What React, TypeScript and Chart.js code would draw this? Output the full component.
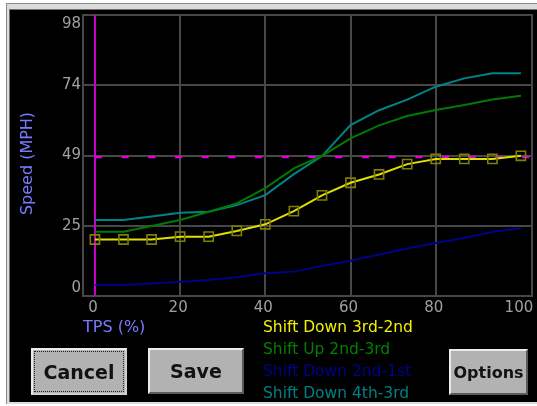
import { useEffect, useRef } from "react";
import { Chart, registerables } from "chart.js";

Chart.register(...registerables);

// ---- data ----
const tps = [0, 6.7, 13.3, 20, 26.7, 33.3, 40, 46.7, 53.3, 60, 66.7, 73.3, 80, 86.7, 93.3, 100];
const shiftDown3to2 = [19.7, 19.7, 19.7, 20.7, 20.7, 22.7, 25.0, 29.6, 35.1, 39.5, 42.4, 46.0, 47.8, 47.8, 47.8, 48.9];
const shiftUp2to3 = [22.4, 22.4, 24.4, 26.5, 29.4, 32.3, 37.6, 44.5, 48.9, 55.0, 59.5, 62.8, 64.9, 66.6, 68.5, 69.8];
const shiftDown2to1 = [3.8, 3.8, 4.4, 5.0, 5.6, 6.5, 7.9, 8.5, 10.5, 12.3, 14.5, 16.6, 18.5, 20.2, 22.3, 23.6];
const shiftDown4to3 = [26.5, 26.5, 27.7, 29.0, 29.4, 31.7, 35.2, 42.5, 48.8, 59.6, 64.8, 68.5, 73.0, 75.9, 77.7, 77.7];
const seriesLabels = ["Shift Down 3rd-2nd", "Shift Up 2nd-3rd", "Shift Down 2nd-1st", "Shift Down 4th-3rd"];
const xTicks = [0, 20, 40, 60, 80, 100];
const yTicks = [0, 24.5, 49, 73.5, 98];
const speedMarker = 48.5;
const tpsMarker = 0;

const FONT = '"DejaVu Sans", sans-serif';
const GRID = "#474747";
const TICK = "#a0a0a0";
const TITLE = "#7a7aff";

const pts = (vals: number[]) => vals.map((v, i) => ({ x: tps[i], y: v }));

const overlayPlugin = {
  id: "overlay",
  beforeDatasetsDraw(chart: any) {
    const { ctx, chartArea: a, scales } = chart;
    const x = scales.x;
    const y = scales.y;
    ctx.save();
    ctx.strokeStyle = GRID;
    ctx.lineWidth = 2;
    ctx.strokeRect(a.left, a.top, a.right - a.left, a.bottom - a.top);
    const x0 = x.getPixelForValue(tpsMarker);
    ctx.strokeStyle = "#c800c8";
    ctx.lineWidth = 2;
    ctx.beginPath();
    ctx.moveTo(x0, a.top);
    ctx.lineTo(x0, a.bottom);
    ctx.stroke();
    const yl = y.getPixelForValue(speedMarker);
    ctx.strokeStyle = "#e000e0";
    ctx.lineWidth = 2.5;
    ctx.setLineDash([7, 19.7]);
    ctx.beginPath();
    ctx.moveTo(x0, yl);
    ctx.lineTo(a.right, yl);
    ctx.stroke();
    ctx.restore();
  },
  afterDraw(chart: any) {
    const { ctx, chartArea: a, scales } = chart;
    const x = scales.x;
    const y = scales.y;
    ctx.save();
    ctx.font = `15px ${FONT}`;
    ctx.fillStyle = TICK;
    ctx.textAlign = "right";
    ctx.textBaseline = "middle";
    yTicks.forEach((v) => {
      let py = y.getPixelForValue(v);
      if (v === yTicks[yTicks.length - 1]) py += 9;
      if (v === yTicks[0]) py -= 8;
      ctx.fillText(String(Math.round(v)), a.left - 2, py);
    });
    ctx.textAlign = "center";
    ctx.textBaseline = "top";
    xTicks.forEach((v) => {
      ctx.fillText(String(v), x.getPixelForValue(v) - 2, a.bottom + 5);
    });
    ctx.font = `16px ${FONT}`;
    ctx.fillStyle = TITLE;
    ctx.textAlign = "left";
    ctx.textBaseline = "alphabetic";
    ctx.fillText("TPS (%)", a.left, 322);
    ctx.save();
    ctx.translate(18, 153.5);
    ctx.rotate(-Math.PI / 2);
    ctx.textAlign = "center";
    ctx.textBaseline = "middle";
    ctx.fillText("Speed (MPH)", 0, 0);
    ctx.restore();
    ctx.font = `15.5px ${FONT}`;
    ctx.textAlign = "left";
    ctx.textBaseline = "alphabetic";
    chart.data.datasets.forEach((ds: any, i: number) => {
      if (!ds.legendColor) return;
      ctx.fillStyle = ds.legendColor;
      ctx.fillText(ds.label, 253, 322 + i * 22);
    });
    ctx.restore();
  },
};

function ChartCanvas() {
  const ref = useRef<HTMLCanvasElement | null>(null);
  useEffect(() => {
    if (!ref.current) return;
    const chart = new Chart(ref.current, {
      type: "line",
      data: {
        datasets: [
          {
            label: seriesLabels[0],
            data: pts(shiftDown3to2),
            borderColor: "#e0e000",
            legendColor: "#f0f000",
            borderWidth: 2,
            pointStyle: "rect",
            pointRadius: 6.5,
            pointBorderWidth: 1.6,
            pointBorderColor: "#808000",
            pointBackgroundColor: "rgba(0,0,0,0)",
            tension: 0,
          } as any,
          {
            label: seriesLabels[1],
            data: pts(shiftUp2to3),
            borderColor: "#007a00",
            legendColor: "#008000",
            borderWidth: 2,
            pointRadius: 0,
            tension: 0,
          } as any,
          {
            label: seriesLabels[2],
            data: pts(shiftDown2to1),
            borderColor: "#000088",
            legendColor: "#00008c",
            borderWidth: 2,
            pointRadius: 0,
            tension: 0,
          } as any,
          {
            label: seriesLabels[3],
            data: pts(shiftDown4to3),
            borderColor: "#008484",
            legendColor: "#008080",
            borderWidth: 2,
            pointRadius: 0,
            tension: 0,
          } as any,
        ],
      },
      options: {
        animation: false,
        responsive: false,
        devicePixelRatio: 1,
        events: [],
        layout: { autoPadding: false, padding: { left: 73, top: 5, right: 5, bottom: 105 } },
        plugins: { legend: { display: false }, tooltip: { enabled: false } },
        scales: {
          x: {
            type: "linear",
            min: -2.8,
            max: 102.6,
            afterBuildTicks: (s: any) => {
              s.ticks = xTicks.map((v) => ({ value: v }));
            },
            afterFit: (s: any) => {
              s.height = 0;
            },
            ticks: { display: false },
            border: { display: false },
            grid: {
              drawTicks: false,
              lineWidth: 2,
              color: (c: any) => (c.tick && c.tick.value === 100 ? "rgba(0,0,0,0)" : GRID),
            },
          },
          y: {
            type: "linear",
            min: 0,
            max: 98,
            afterBuildTicks: (s: any) => {
              s.ticks = yTicks.map((v) => ({ value: v }));
            },
            afterFit: (s: any) => {
              s.width = 0;
            },
            ticks: { display: false },
            border: { display: false },
            grid: { drawTicks: false, lineWidth: 2, color: GRID },
          },
        },
      } as any,
      plugins: [overlayPlugin],
    });
    return () => chart.destroy();
  }, []);
  return (
    <canvas
      ref={ref}
      width={527}
      height={391}
      style={{ position: "absolute", left: 10, top: 10, width: 527, height: 391 }}
    />
  );
}

function Btn(props: { label: string; left: number; top: number; w: number; h: number; size: number; focus?: boolean }) {
  const { label, left, top, w, h, size, focus } = props;
  return (
    <div
      style={{
        position: "absolute",
        left,
        top,
        width: w,
        height: h,
        boxSizing: "border-box",
        background: "#b2b2b2",
        borderTop: "2px solid #ececec",
        borderLeft: "2px solid #ececec",
        borderBottom: focus ? "2px solid #d0d0d0" : "2px solid #5a5a5a",
        borderRight: focus ? "2px solid #d0d0d0" : "2px solid #5a5a5a",
        display: "flex",
        alignItems: "center",
        justifyContent: "center",
        fontFamily: FONT,
        fontWeight: "bold",
        fontSize: size,
        color: "#121212",
      }}
    >
      {focus && (
        <div
          style={{
            position: "absolute",
            left: 1,
            top: 1,
            right: 1,
            bottom: 1,
            border: "1px dotted #202020",
          }}
        />
      )}
      <span style={{ position: "relative" }}>{label}</span>
    </div>
  );
}

export default function App() {
  return (
    <div style={{ position: "absolute", left: 0, top: 0, width: 537, height: 406, background: "#ffffff", overflow: "hidden" }}>
      <div
        style={{
          position: "absolute",
          left: 6,
          top: 3,
          width: 540,
          height: 401,
          background: "#dcdcdc",
          borderTop: "1px solid #8a8a8a",
          borderLeft: "1px solid #8a8a8a",
          boxSizing: "border-box",
        }}
      />
      <div
        style={{
          position: "absolute",
          left: 9,
          top: 9,
          width: 540,
          height: 393,
          background: "#000000",
          borderTop: "1px solid #707070",
          borderLeft: "1px solid #707070",
          boxSizing: "border-box",
        }}
      />
      <ChartCanvas />
      <Btn label="Cancel" left={31} top={348} w={96} h={47} size={19} focus />
      <Btn label="Save" left={148} top={348} w={96} h={46} size={19} />
      <Btn label="Options" left={449} top={349} w={79} h={46} size={16} />
    </div>
  );
}
